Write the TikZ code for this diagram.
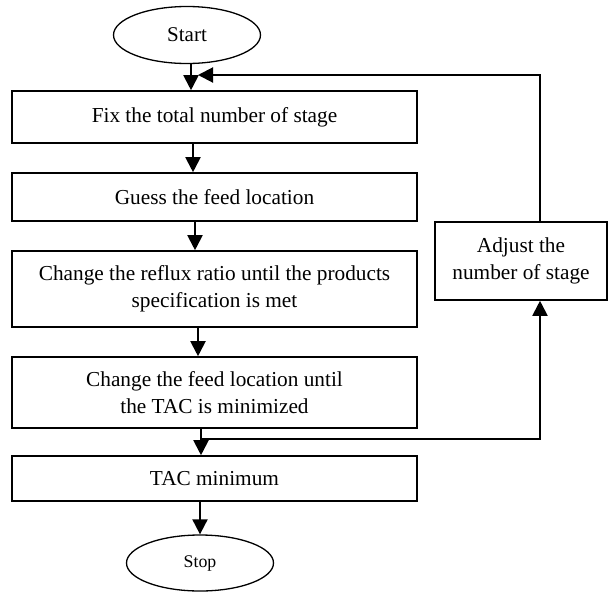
\documentclass[tikz,border=0pt]{standalone}
\usepackage{fontspec}
\setmainfont{Liberation Serif}
\usetikzlibrary{arrows.meta,shapes.geometric}
\begin{document}
\begin{tikzpicture}[x=1pt,y=-1pt,
  box/.style={draw,line width=1.6pt,minimum width=405pt,inner sep=0pt,align=center,font=\fontsize{21.3}{26.6}\selectfont},
  term/.style={draw,ellipse,line width=1.3pt,minimum width=147pt,inner sep=0pt},
  arr/.style={line width=2pt,-{Triangle[length=15pt,width=15pt]}},
  flow/.style={line width=2pt}]
\useasboundingbox (0,0) rectangle (608,592);
\node[term,minimum height=57pt,font=\fontsize{21}{25}\selectfont] (start) at (187,35) {Start};
\node[box,minimum height=52pt] (b1) at (214.5,117) {Fix the total number of stage};
\node[box,minimum height=48pt] (b2) at (214.5,197) {Guess the feed location};
\node[box,minimum height=76pt] (b3) at (214.5,289) {Change the reflux ratio until the products\\specification is met};
\node[box,minimum height=71pt] (b4) at (214.5,392.5) {Change the feed location until\\the TAC is minimized};
\node[box,minimum height=45pt] (b5) at (214.5,478.5) {TAC minimum};
\node[term,minimum height=56pt,font=\fontsize{17.8}{21}\selectfont] (stop) at (200,563) {Stop};
\node[draw,line width=1.6pt,minimum width=172pt,minimum height=78pt,inner sep=0pt,align=center,font=\fontsize{21.3}{26.6}\selectfont] (adj) at (521,261) {Adjust the\\number of stage};
\coordinate (x1) at (191,0);
\coordinate (x2) at (193,0);
\coordinate (x3) at (195,0);
\coordinate (x4) at (198,0);
\coordinate (x5) at (201,0);
\coordinate (x6) at (200,0);
\coordinate (xr) at (540,0);
\coordinate (ytop) at (0,75);
\coordinate (ybot) at (0,439);
\draw[arr] (start.south -| x1) -- (b1.north -| x1);
\draw[arr] (b1.south -| x2) -- (b2.north -| x2);
\draw[arr] (b2.south -| x3) -- (b3.north -| x3);
\draw[arr] (b3.south -| x4) -- (b4.north -| x4);
\draw[arr] (b4.south -| x5) -- (b5.north -| x5);
\draw[arr] (b5.south -| x6) -- (stop.north -| x6);
\draw[arr] (adj.north -| xr) -- (xr |- ytop) -- (ytop -| x4);
\draw[arr] (ybot -| x5) -- (ybot -| xr) -- (adj.south -| xr);
\end{tikzpicture}
\end{document}
